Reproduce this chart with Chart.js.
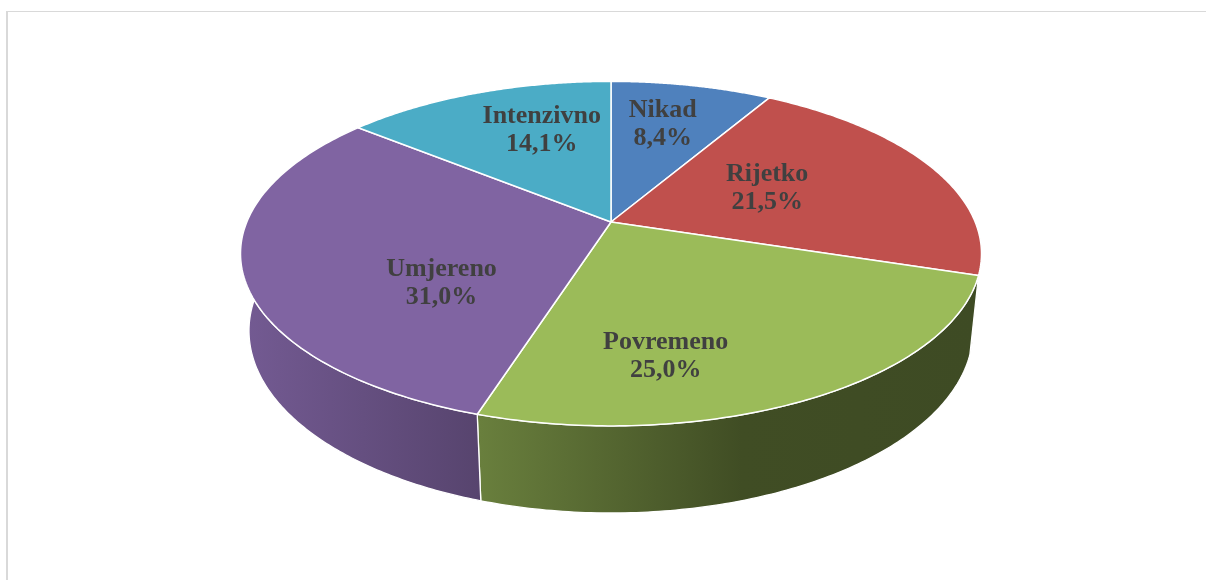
<!DOCTYPE html>
<html>
<head>
<meta charset="utf-8">
<script src="https://cdn.jsdelivr.net/npm/chart.js@4"></script>
<style>
html, body { margin: 0; padding: 0; background: #fff; }
#okvir { position: relative; width: 1206px; height: 580px; overflow: hidden; }
#rub { position: absolute; left: 6px; top: 11px; width: 1300px; height: 700px;
       border-left: 2px solid #d9d9d9; border-top: 1px solid #d9d9d9; }
canvas { position: absolute; left: 0; top: 0; }
</style>
</head>
<body>
<div id="okvir">
  <div id="rub"></div>
  <canvas id="pita" width="1206" height="580"></canvas>
</div>
<script>
// podaci
const kategorije = ['Nikad', 'Rijetko', 'Povremeno', 'Umjereno', 'Intenzivno'];
const postoci = [8.4, 21.5, 25.0, 31.0, 14.1];
const boje = ['#4F81BD', '#C0504D', '#9BBB59', '#8064A2', '#4BACC6'];

// parametri 3D pogleda (nagib kamere, udaljenost, debljina pite)
const NAGIB_SIN = 0.457, NAGIB_COS = 0.889;
const UDALJENOST = 4.84;
const FOKUS = 7.94;      // u jedinicama polumjera
const DEBLJINA = 0.24;

function projiciraj(arc, kut, r, dubina) {
    const px = r * Math.cos(kut), pz = r * Math.sin(kut);
    const d = UDALJENOST + dubina * NAGIB_SIN - pz * NAGIB_COS;
    const f = FOKUS * arc.outerRadius;
    return {
        x: arc.x + f * px / d,
        y: arc.y + f * (dubina * NAGIB_COS + pz * NAGIB_SIN) / d
    };
}

function zatamni(hex, k) {
    const n = parseInt(hex.slice(1), 16);
    const r = Math.round(((n >> 16) & 255) * k);
    const g = Math.round(((n >> 8) & 255) * k);
    const b = Math.round((n & 255) * k);
    return `rgb(${r},${g},${b})`;
}

// smjer (na ekranu) ruba kriske gledano iz sredista
function smjer(arc, kut, od) {
    const p = projiciraj(arc, kut, 1, 0);
    let a = Math.atan2(p.y - arc.y, p.x - arc.x);
    while (a < od - 1e-9) a += 2 * Math.PI;
    return a;
}

// polozaj oznake: simetrala kriske na ekranu
function polozajOznake(arc) {
    const a0 = smjer(arc, arc.startAngle, -10);
    const a1 = smjer(arc, arc.endAngle, a0 + 1e-6);
    const sred = (a0 + a1) / 2;
    let lo = arc.startAngle, hi = arc.endAngle;
    for (let k = 0; k < 40; k++) {
        const m = (lo + hi) / 2;
        if (smjer(arc, m, a0) < sred) lo = m; else hi = m;
    }
    const rub = projiciraj(arc, (lo + hi) / 2, 1, 0);
    const dist = Math.hypot(rub.x - arc.x, rub.y - arc.y);
    const d = 0.3 * dist + 0.325 * arc.outerRadius;
    return {
        x: arc.x + d * Math.cos(sred),
        y: arc.y + d * Math.sin(sred) + 0.036 * arc.outerRadius
    };
}

const pita3d = {
    id: 'pita3d',
    beforeDatasetsDraw(chart) {
        const ctx = chart.ctx;
        const lukovi = chart.getDatasetMeta(0).data;
        const KORAK = 120;

        // bocne stijenke (samo prednja polovica)
        lukovi.forEach(function (arc, i) {
            const lo = Math.max(arc.startAngle, 0);
            const hi = Math.min(arc.endAngle, Math.PI);
            if (hi <= lo) return;
            const lijevo = projiciraj(arc, Math.PI, 1, 0).x;
            const desno = projiciraj(arc, 0, 1, 0).x;
            const grad = ctx.createLinearGradient(lijevo, 0, desno, 0);
            grad.addColorStop(0, zatamni(boje[i], 0.90));
            grad.addColorStop(0.32, zatamni(boje[i], 0.68));
            grad.addColorStop(0.68, zatamni(boje[i], 0.41));
            grad.addColorStop(1, zatamni(boje[i], 0.40));
            ctx.beginPath();
            for (let s = 0; s <= KORAK; s++) {
                const p = projiciraj(arc, lo + (hi - lo) * s / KORAK, 1, 0);
                s === 0 ? ctx.moveTo(p.x, p.y) : ctx.lineTo(p.x, p.y);
            }
            for (let s = KORAK; s >= 0; s--) {
                const p = projiciraj(arc, lo + (hi - lo) * s / KORAK, 1, DEBLJINA);
                ctx.lineTo(p.x, p.y);
            }
            ctx.closePath();
            ctx.fillStyle = grad;
            ctx.fill();
            ctx.strokeStyle = '#ffffff';
            ctx.lineWidth = 1.3;
            ctx.stroke();
        });

        // gornje plohe
        lukovi.forEach(function (arc, i) {
            ctx.beginPath();
            ctx.moveTo(arc.x, arc.y);
            for (let s = 0; s <= KORAK; s++) {
                const kut = arc.startAngle + (arc.endAngle - arc.startAngle) * s / KORAK;
                const p = projiciraj(arc, kut, 1, 0);
                ctx.lineTo(p.x, p.y);
            }
            ctx.closePath();
            ctx.fillStyle = boje[i];
            ctx.fill();
            ctx.strokeStyle = '#ffffff';
            ctx.lineWidth = 1.5;
            ctx.lineJoin = 'round';
            ctx.stroke();
        });

        // oznake
        ctx.save();
        ctx.font = 'bold 26px "Liberation Serif", "Times New Roman", serif';
        ctx.fillStyle = '#404040';
        ctx.textAlign = 'center';
        ctx.textBaseline = 'middle';
        lukovi.forEach(function (arc, i) {
            const p = polozajOznake(arc);
            const tekst = postoci[i].toFixed(1).replace('.', ',') + '%';
            ctx.fillText(kategorije[i], p.x, p.y - 14);
            ctx.fillText(tekst, p.x, p.y + 14);
        });
        ctx.restore();
        return false;
    }
};

document.addEventListener('DOMContentLoaded', function () {
    const ctx = document.getElementById('pita').getContext('2d');

    new Chart(ctx, {
        type: 'pie',
        data: {
            labels: kategorije,
            datasets: [{
                data: postoci,
                backgroundColor: boje,
                borderColor: '#ffffff',
                borderWidth: 0
            }]
        },
        options: {
            responsive: false,
            devicePixelRatio: 1,
            animation: false,
            layout: {
                padding: { left: 16, top: 0, right: 0, bottom: 136 }
            },
            plugins: {
                legend: { display: false },
                tooltip: { enabled: false }
            }
        },
        plugins: [pita3d]
    });
});
</script>
</body>
</html>
